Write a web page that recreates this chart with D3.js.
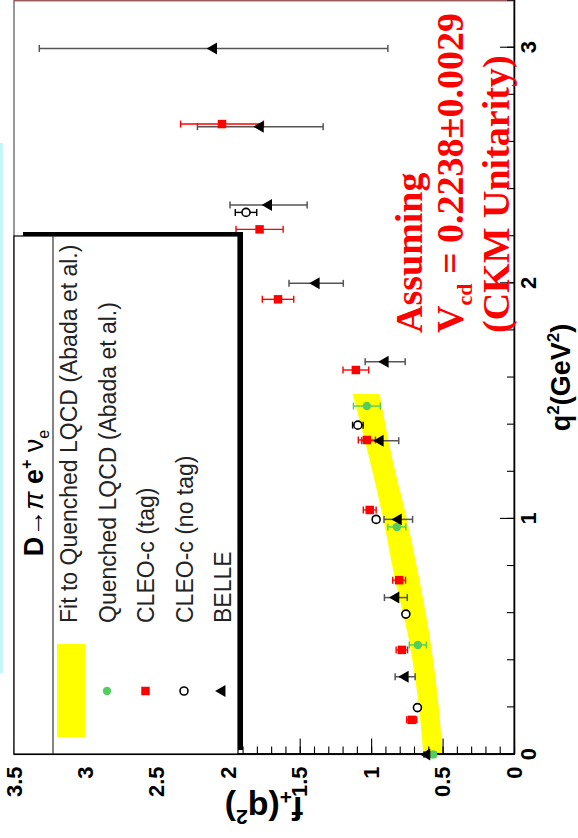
<!DOCTYPE html>
<html>
<head>
<meta charset="utf-8">
<script src="https://cdn.jsdelivr.net/npm/d3@7"></script>
<style>
  html, body { margin: 0; padding: 0; background: #fff; }
  svg { display: block; }
</style>
</head>
<body>
<svg id="chart" width="578" height="838"></svg>
<script>
// ---- Data: D -> pi e+ nu_e form factor f+(q^2) ----
// Fit band to quenched lattice QCD (q^2, lower and upper f+ edge)
const bandQ  = [0.00, 0.25, 0.50, 0.75, 1.00, 1.25, 1.53];
const bandLo = [0.500, 0.535, 0.590, 0.665, 0.750, 0.850, 0.940];
const bandHi = [0.635, 0.675, 0.740, 0.835, 0.915, 1.010, 1.130];

// Quenched LQCD points
const latQ   = [0.000, 0.465, 0.966, 1.479];
const latF   = [0.566, 0.673, 0.820, 1.030];
const latErr = [0.020, 0.060, 0.063, 0.094];

// CLEO-c (tag)
const tagQ   = [0.147, 0.444, 0.740, 1.038, 1.335, 1.632, 1.932, 2.229, 2.676];
const tagF   = [0.716, 0.785, 0.804, 1.010, 1.030, 1.107, 1.652, 1.781, 2.044];
const tagErr = [0.035, 0.040, 0.045, 0.045, 0.060, 0.090, 0.110, 0.165, 0.290];

// CLEO-c (no tag)
const ntQ    = [0.199, 0.596, 0.998, 1.398, 2.301];
const ntF    = [0.676, 0.757, 0.965, 1.093, 1.876];
const ntErr  = [0.010, 0.010, 0.020, 0.037, 0.075];

// BELLE
const beQ    = [0.000, 0.330, 0.666, 0.998, 1.332, 1.667, 2.000, 2.332, 2.665, 2.997];
const beF    = [0.610, 0.762, 0.827, 0.810, 0.937, 0.902, 1.385, 1.718, 1.776, 2.103];
const beErr  = [0.020, 0.070, 0.080, 0.100, 0.130, 0.140, 0.190, 0.270, 0.440, 1.220];

// Axis ticks
const q2Ticks      = [0, 1, 2, 3];
const q2TickLabels = ["0", "1", "2", "3"];
const q2Minor      = d3.range(0, 3.21, 0.2);
const fTicks       = [0, 0.5, 1, 1.5, 2, 2.5, 3, 3.5];
const fTickLabels  = ["0", "0.5", "1", "1.5", "2", "2.5", "3", "3.5"];
const fMinor       = d3.range(0, 3.51, 0.1);

// Legend entries
const legendLabels = [
  "Fit to Quenched LQCD (Abada et al.)",
  "Quenched LQCD (Abada et al.)",
  "CLEO-c (tag)",
  "CLEO-c (no tag)",
  "BELLE"
];

// ---- Drawing ----
const SANS  = "'Liberation Sans', Arial, Helvetica, sans-serif";
const SERIF = "'Liberation Serif', 'Times New Roman', Times, serif";
const RED = "#ff0000", GREEN = "#55cc5e", YELLOW = "#ffff00";

const svg = d3.select("#chart");
svg.append("rect").attr("width", 578).attr("height", 838).attr("fill", "#fff");

// thin cyan strip along the page edge
svg.append("rect").attr("x", 0).attr("y", 143).attr("width", 3).attr("height", 530)
   .attr("fill", "#c4f6f8");

// the whole canvas is turned a quarter turn counter-clockwise
const g = svg.append("g").attr("transform", "translate(0,838) rotate(-90)");

const x = d3.scaleLinear().domain([0, 3.2]).range([83.5, 837.4]);   // q^2
const y = d3.scaleLinear().domain([0, 3.5]).range([514, 14]);       // f+

// frame
g.append("rect")
  .attr("x", x(0)).attr("y", y(3.5))
  .attr("width", x(3.2) - x(0)).attr("height", y(0) - y(3.5))
  .attr("fill", "none").attr("stroke", "#555").attr("stroke-width", 1.2);
g.append("line")
  .attr("x1", x(3.2)).attr("x2", x(3.2)).attr("y1", y(3.5)).attr("y2", y(0))
  .attr("stroke", "#9a5a5a").attr("stroke-width", 1.5);

// fit band
const band = bandQ.map((q, i) => ({q, lo: bandLo[i], hi: bandHi[i]}));
g.append("path").datum(band)
  .attr("fill", YELLOW)
  .attr("d", d3.area().x(d => x(d.q)).y0(d => y(d.lo)).y1(d => y(d.hi)).curve(d3.curveMonotoneX));

// axes
function styleAxis(sel) {
  sel.attr("font-family", SANS).attr("font-size", 22).attr("font-weight", "bold");
  sel.selectAll("path.domain").attr("stroke", "#000").attr("stroke-width", 1.3);
  sel.selectAll(".tick line").attr("stroke", "#000").attr("stroke-width", 1.1);
  sel.selectAll(".tick text").attr("fill", "#000");
}
g.append("g").attr("transform", `translate(0,${y(0)})`)
  .call(d3.axisBottom(x).tickValues(q2Minor).tickSize(-7).tickSizeOuter(0).tickFormat(""))
  .call(styleAxis);
g.append("g").attr("transform", `translate(0,${y(0)})`)
  .call(d3.axisBottom(x).tickValues(q2Ticks).tickSize(-14).tickSizeOuter(0).tickPadding(6)
        .tickFormat((d, i) => q2TickLabels[i]))
  .call(styleAxis);
g.append("g").attr("transform", `translate(${x(0)},0)`)
  .call(d3.axisLeft(y).tickValues(fMinor).tickSize(-8).tickSizeOuter(0).tickFormat(""))
  .call(styleAxis);
g.append("g").attr("transform", `translate(${x(0)},0)`)
  .call(d3.axisLeft(y).tickValues(fTicks).tickSize(-16).tickSizeOuter(0).tickPadding(12)
        .tickFormat((d, i) => fTickLabels[i]))
  .call(styleAxis);

// axis titles
const xt = g.append("text")
  .attr("x", (x(0) + x(3.2)) / 2).attr("y", 570)
  .attr("text-anchor", "middle").attr("font-family", SANS)
  .attr("font-size", 27).attr("font-weight", "bold");
xt.append("tspan").text("q");
xt.append("tspan").attr("font-size", 17).attr("dy", -11).text("2");
xt.append("tspan").attr("dy", 11).text("(GeV");
xt.append("tspan").attr("font-size", 17).attr("dy", -11).text("2");
xt.append("tspan").attr("dy", 11).text(")");

const yt = g.append("text")
  .attr("transform", `translate(41,${(y(0) + y(3.5)) / 2}) rotate(-90)`)
  .attr("text-anchor", "middle").attr("font-family", SANS)
  .attr("font-size", 34).attr("font-weight", "bold");
yt.append("tspan").text("f");
yt.append("tspan").attr("font-size", 21).attr("dy", 7).text("+");
yt.append("tspan").attr("dy", -7).text("(q");
yt.append("tspan").attr("font-size", 21).attr("dy", -13).text("2");
yt.append("tspan").attr("dy", 13).text(")");

// error bars with end caps
function errorBars(qs, fs, es, color, width) {
  const pts = qs.map((q, i) => ({q, f: fs[i], e: es[i]}));
  const eg = g.append("g").attr("stroke", color).attr("stroke-width", width);
  pts.forEach(p => {
    const cx = x(p.q), y1 = y(p.f - p.e), y2 = y(p.f + p.e);
    eg.append("line").attr("x1", cx).attr("x2", cx).attr("y1", y1).attr("y2", y2);
    eg.append("line").attr("x1", cx - 3.5).attr("x2", cx + 3.5).attr("y1", y1).attr("y2", y1);
    eg.append("line").attr("x1", cx - 3.5).attr("x2", cx + 3.5).attr("y1", y2).attr("y2", y2);
  });
  return pts;
}

const latPts = errorBars(latQ, latF, latErr, GREEN, 1.4);
const bePts  = errorBars(beQ, beF, beErr, "#555", 1.5);
const ntPts  = errorBars(ntQ, ntF, ntErr, "#000", 1.4);
const tagPts = errorBars(tagQ, tagF, tagErr, RED, 1.4);

const sqSym  = d3.symbol().type(d3.symbolSquare).size(72);
const triSym = d3.symbol().type(d3.symbolTriangle).size(62);

g.append("g").selectAll("circle").data(latPts).join("circle")
  .attr("cx", d => x(d.q)).attr("cy", d => y(d.f)).attr("r", 4.2).attr("fill", GREEN);
g.append("g").selectAll("path").data(bePts).join("path")
  .attr("transform", d => `translate(${x(d.q)},${y(d.f)})`).attr("d", triSym).attr("fill", "#000");
g.append("g").selectAll("circle").data(ntPts).join("circle")
  .attr("cx", d => x(d.q)).attr("cy", d => y(d.f)).attr("r", 4)
  .attr("fill", "#fff").attr("stroke", "#000").attr("stroke-width", 1.6);
g.append("g").selectAll("path").data(tagPts).join("path")
  .attr("transform", d => `translate(${x(d.q)},${y(d.f)})`).attr("d", sqSym).attr("fill", RED);

// annotation
const note = g.append("g").attr("fill", RED).attr("font-family", SERIF)
  .attr("font-weight", "bold").attr("font-size", 38);
note.append("text").attr("x", 505).attr("y", 422).text("Assuming");
const l2 = note.append("text").attr("x", 505).attr("y", 463);
l2.append("tspan").text("V");
l2.append("tspan").attr("font-size", 22).attr("dy", 9).text("cd");
l2.append("tspan").attr("dy", -9).text(" = 0.2238\u00b10.0029");
note.append("text").attr("x", 505).attr("y", 509).text("(CKM Unitarity)");

// legend (box with drop shadow)
const lg = g.append("g");
lg.append("rect").attr("x", 88).attr("y", 23).attr("width", 518).attr("height", 220).attr("fill", "#000");
lg.append("rect").attr("x", 84).attr("y", 14).attr("width", 518).attr("height", 224)
  .attr("fill", "#fff").attr("stroke", "#000").attr("stroke-width", 1.2);
lg.append("line").attr("x1", 84).attr("x2", 602).attr("y1", 53).attr("y2", 53)
  .attr("stroke", "#333").attr("stroke-width", 1.2);

const hd = lg.append("text").attr("x", 345).attr("y", 43).attr("text-anchor", "middle")
  .attr("font-family", SANS).attr("font-size", 27);
hd.append("tspan").attr("font-weight", "bold").text("D");
hd.append("tspan").text("\u2192");
hd.append("tspan").attr("font-style", "italic").text("\u03c0 ");
hd.append("tspan").attr("font-weight", "bold").text("e");
hd.append("tspan").attr("font-weight", "bold").attr("font-size", 16).attr("dy", -11).text("+");
hd.append("tspan").attr("dy", 11).text(" \u03bd");
hd.append("tspan").attr("font-size", 16).attr("dy", 6).text("e");

const rowY = [77, 115.5, 154, 192.5, 231];
lg.selectAll("text.entry").data(legendLabels).join("text").attr("class", "entry")
  .attr("x", 215).attr("y", (d, i) => rowY[i])
  .attr("font-family", SANS).attr("font-size", 23).attr("fill", "#222").text(d => d);

const symX = 147;
lg.append("rect").attr("x", 101).attr("y", 57).attr("width", 93).attr("height", 28).attr("fill", YELLOW);
lg.append("circle").attr("cx", symX).attr("cy", rowY[1] - 8.5).attr("r", 4.2).attr("fill", GREEN);
lg.append("path").attr("transform", `translate(${symX},${rowY[2] - 8.5})`).attr("d", sqSym).attr("fill", RED);
lg.append("circle").attr("cx", symX).attr("cy", rowY[3] - 8.5).attr("r", 4)
  .attr("fill", "#fff").attr("stroke", "#000").attr("stroke-width", 1.6);
lg.append("path").attr("transform", `translate(${symX},${rowY[4] - 9})`).attr("d", triSym).attr("fill", "#000");
</script>
</body>
</html>
